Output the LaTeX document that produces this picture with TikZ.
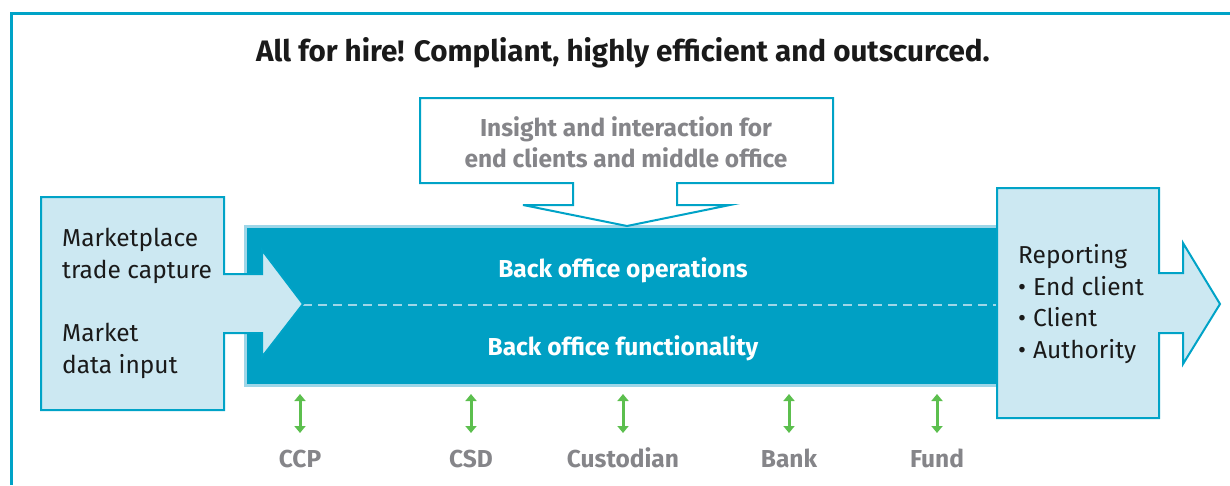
\documentclass[tikz,border=0pt]{standalone}
\usepackage{fontspec}
\setmainfont{Fira Sans}
\usetikzlibrary{arrows.meta}

\definecolor{boxteal}{HTML}{00A3C7}
\definecolor{bandblue}{HTML}{00A0C4}
\definecolor{edgeblue}{HTML}{9ED6E8}
\definecolor{paleblue}{HTML}{CCE8F2}
\definecolor{linkgreen}{HTML}{5CBF4E}
\definecolor{labelgray}{HTML}{858589}
\definecolor{titleblack}{HTML}{1A1A1A}

\begin{document}
\begin{tikzpicture}[x=1pt,y=-1pt,
  shapeline/.style={draw=boxteal, line width=2},
  txt/.style={font=\fontsize{24.5}{31.5}\selectfont, text=titleblack, align=left, inner sep=0},
  bold/.style={font=\fontsize{24.5}{31}\selectfont\bfseries, inner sep=0},
  link/.style={draw=linkgreen, line width=3, {Triangle[length=7,width=11]}-{Triangle[length=7,width=11]}}]
\useasboundingbox (0,0) rectangle (1230,485);
% outer frame, open to the right and bottom
\draw [boxteal, line width=3] (11,485) -- (11,13) -- (1230,13);
\node [font=\fontsize{29.6}{35}\selectfont\bfseries, text=titleblack] (title) at (623,53) {All for hire! Compliant, highly efficient and outscurced.};

% back office band
\node [fill=bandblue, draw=edgeblue, line width=3, minimum width=752, minimum height=159, inner sep=0] (band) at (621.5,306) {};
\draw [edgeblue, line width=2, dash pattern=on 9 off 6] (303,305) -- (996,305);
\node [bold, text=white] (ops) at (623,270) {Back office operations};
\node [bold, text=white] (func) at (623,348) {Back office functionality};

% input box with arrow into the band
\draw [shapeline, fill=paleblue] (41,197) -- (224,197) -- (224,274) -- (262,274) -- (262,250) -- (303,304)
  -- (262,357) -- (262,333) -- (224,333) -- (224,410) -- (41,410) -- cycle;
\node [txt, anchor=west] (capture) at (62,256) {Marketplace\\trade capture};
\node [txt, anchor=west] (data) at (62,351) {Market\\data input};

% reporting box with arrow out
\draw [shapeline, fill=paleblue] (997,188) -- (1159,188) -- (1159,273) -- (1183,273) -- (1183,243) -- (1220,304)
  -- (1183,364) -- (1183,333) -- (1159,333) -- (1159,418) -- (997,418) -- cycle;
\node [txt, anchor=west] (report) at (1018,304) {Reporting\\\textbullet\hspace{7pt}End client\\\textbullet\hspace{7pt}Client\\\textbullet\hspace{7pt}Authority};

% insight box pointing down
\draw [shapeline, fill=white] (420,98) -- (833,98) -- (833,183) -- (677,183) -- (677,205) -- (730,205) -- (627,226)
  -- (523,205) -- (573,205) -- (573,183) -- (420,183) -- cycle;
\node [bold, text=labelgray, align=center] (insight) at (626,142) {Insight and interaction for\\end clients and middle office};

% external parties
\foreach \x/\n/\t in {300/ccp/CCP, 471/csd/CSD, 623/cust/Custodian, 789/bank/Bank, 937/fund/Fund}{
  \node [bold, text=labelgray, anchor=base] (\n) at (\x,467) {\t};
  \draw [link] ([yshift=-7pt]band.south -| \n.north) -- ([yshift=-46pt]band.south -| \n.north);
}
\end{tikzpicture}
\end{document}
